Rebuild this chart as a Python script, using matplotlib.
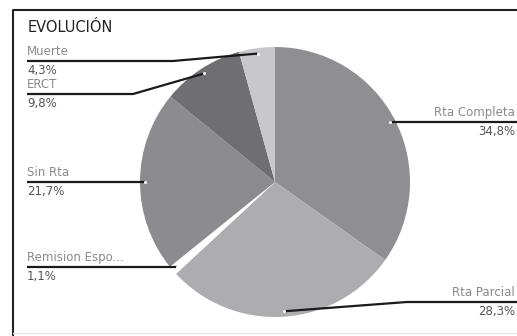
import matplotlib.pyplot as plt
import numpy as np

labels = ['Rta Completa', 'Rta Parcial', 'Remision Espo...', 'Sin Rta', 'ERCT', 'Muerte']
values = [34.8, 28.3, 1.1, 21.7, 9.8, 4.3]
pct_text = ['34,8%', '28,3%', '1,1%', '21,7%', '9,8%', '4,3%']
colors = ['#8e8e93', '#adadb1', '#ffffff', '#8b8b90', '#6e6e73', '#c8c8cc']

W, H = 517, 336
fig = plt.figure(figsize=(W / 100, H / 100), dpi=100)
ax = fig.add_axes([0, 0, 1, 1])

cx, cy, R = 275, H - 182, 135
wedges, _ = ax.pie(values, colors=colors, startangle=90, counterclock=False,
                   center=(cx, cy), radius=R, wedgeprops=dict(linewidth=0))
ax.set_xlim(0, W)
ax.set_ylim(0, H)
ax.set_aspect('equal')
ax.axis('off')

# leader line layout: (line y in px from top, elbow x or None, side)
layout = {
    'Rta Completa': (None, None, 'right'),
    'Rta Parcial': (302, 407, 'right'),
    'Remision Espo...': (None, None, 'left'),
    'Sin Rta': (None, None, 'left'),
    'ERCT': (94, 133, 'left'),
    'Muerte': (61, 173, 'left'),
}

name_col = '#8a8a8a'
pct_col = '#555555'
fs = 8.5
for w, lab, pct in zip(wedges, labels, pct_text):
    mid = np.deg2rad((w.theta1 + w.theta2) / 2)
    px = cx + 0.96 * R * np.cos(mid)
    py = cy + 0.96 * R * np.sin(mid)
    ly, ex, side = layout[lab]
    ly = py if ly is None else H - ly
    if side == 'right':
        xs = [px] + ([ex] if ex else []) + [W]
        tx, ha = W - 2, 'right'
    else:
        xs = [px] + ([ex] if ex else []) + [27]
        tx, ha = 27, 'left'
    ys = [py] + [ly] * (len(xs) - 1)
    ax.plot(xs, ys, color='#1a1a1a', lw=1.6, solid_capstyle='butt', clip_on=False)
    ax.plot(px, py, 'o', ms=2.2, color='white', mew=0)
    ax.text(tx, ly + 3, lab, ha=ha, va='bottom', fontsize=fs, color=name_col)
    ax.text(tx, ly - 3, pct, ha=ha, va='top', fontsize=fs, color=pct_col)

ax.text(28, H - 27, 'EVOLUCIÓN', ha='left', va='center', fontsize=10.5, color='#222222')

# frame
ax.plot([13, 13, W + 5], [0, H - 10, H - 10], color='#222222', lw=1.5, clip_on=False)
ax.plot([13, W], [H - 333, H - 333], color='#e6e6e6', lw=1)

fig.savefig('out.png', dpi=100)
